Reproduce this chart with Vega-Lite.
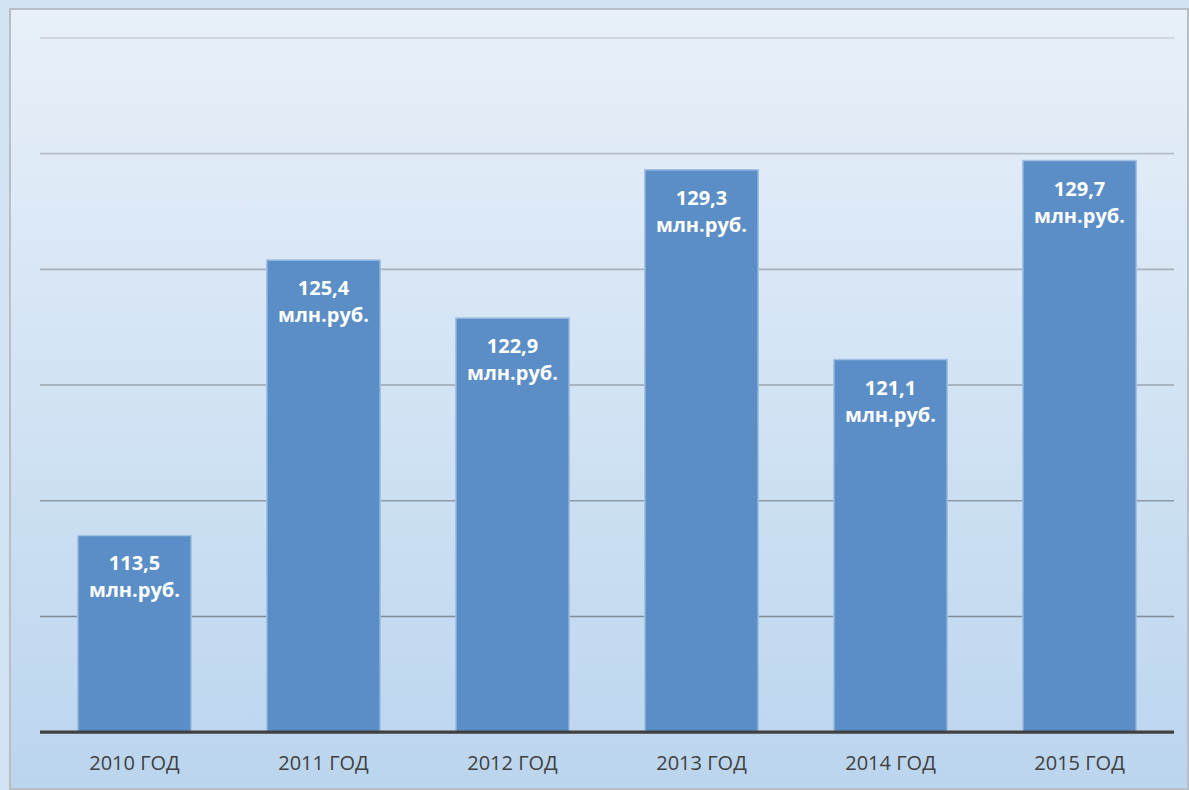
{
  "$schema": "https://vega.github.io/schema/vega-lite/v6.json",
  "width": 1189,
  "height": 790,
  "autosize": {"type": "fit", "contains": "padding"},
  "padding": {"left": 9, "top": 8, "right": 0, "bottom": 0},
  "background": "#d4e3f3",
  "datasets": {
    "bars": [
      {"year": "2010 ГОД", "value": 113.5},
      {"year": "2011 ГОД", "value": 125.4},
      {"year": "2012 ГОД", "value": 122.9},
      {"year": "2013 ГОД", "value": 129.3},
      {"year": "2014 ГОД", "value": 121.1},
      {"year": "2015 ГОД", "value": 129.7}
    ],
    "grid": [{"v": 110}, {"v": 115}, {"v": 120}, {"v": 125}, {"v": 130}, {"v": 135}],
    "base": [{"v": 105}]
  },
  "layer": [
    {
      "data": {"name": "base"},
      "mark": {
        "type": "rect",
        "fill": {"gradient": "linear", "x1": 0, "y1": 0, "x2": 0, "y2": 1,
          "stops": [{"offset": 0, "color": "#e8f0f9"}, {"offset": 1, "color": "#bbd5ee"}]},
        "stroke": "#b9bec5",
        "strokeWidth": 2
      },
      "encoding": {}
    },
    {
      "data": {"name": "grid"},
      "mark": {"type": "rule", "strokeWidth": 1.6},
      "encoding": {
        "y": {"field": "v", "type": "quantitative", "axis": null,
          "scale": {"domain": [102.543, 136.25], "nice": false, "zero": false}},
        "x": {"datum": "2010 ГОД", "bandPosition": -0.3333, "title": null,
          "scale": {"domain": ["2010 ГОД", "2011 ГОД", "2012 ГОД", "2013 ГОД", "2014 ГОД", "2015 ГОД"],
            "paddingInner": 0.4, "paddingOuter": 0.3162, "align": 0.567},
          "axis": {"domain": false, "ticks": false, "grid": false, "labelAngle": 0, "labelFont": "Open Sans",
            "labelFontSize": 20, "labelColor": "#404040", "offset": -38, "labelPadding": 2, "zindex": 1}},
        "x2": {"datum": "2015 ГОД", "bandPosition": 1.3333},
        "color": {"field": "v", "type": "quantitative", "legend": null,
          "scale": {"domain": [110, 135], "range": ["#7f8b97", "#c6cdd6"]}}
      }
    },
    {
      "data": {"name": "bars"},
      "mark": {"type": "bar", "fill": "#5b8ec6", "stroke": "#a3c1e2", "strokeWidth": 1.5},
      "encoding": {
        "x": {"field": "year", "type": "nominal", "sort": null, "title": null,
          "axis": {"domain": false, "ticks": false, "grid": false, "labelAngle": 0, "labelFont": "Open Sans",
            "labelFontSize": 20, "labelColor": "#404040", "offset": -38, "labelPadding": 2, "zindex": 1}},
        "y": {"field": "value", "type": "quantitative", "axis": null},
        "y2": {"datum": 105}
      }
    },
    {
      "data": {"name": "base"},
      "mark": {"type": "rule", "strokeWidth": 3.2, "color": "#404040"},
      "encoding": {
        "y": {"field": "v", "type": "quantitative", "axis": null},
        "x": {"datum": "2010 ГОД", "bandPosition": -0.3333, "title": null},
        "x2": {"datum": "2015 ГОД", "bandPosition": 1.3333}
      }
    },
    {
      "data": {"name": "bars"},
      "mark": {"type": "text", "dy": 35, "baseline": "alphabetic", "font": "Open Sans",
        "fontSize": 20, "fontWeight": "bold", "color": "#ffffff"},
      "encoding": {
        "x": {"field": "year", "type": "nominal", "sort": null, "title": null},
        "y": {"field": "value", "type": "quantitative", "axis": null},
        "text": {"field": "value", "type": "quantitative", "format": ".1f"}
      }
    },
    {
      "data": {"name": "bars"},
      "mark": {"type": "text", "dy": 62, "baseline": "alphabetic", "font": "Open Sans",
        "fontSize": 20, "fontWeight": "bold", "color": "#ffffff", "text": "млн.руб."},
      "encoding": {
        "x": {"field": "year", "type": "nominal", "sort": null, "title": null},
        "y": {"field": "value", "type": "quantitative", "axis": null}
      }
    }
  ],
  "config": {
    "view": {"stroke": null},
    "locale": {"number": {"decimal": ",", "thousands": " ", "grouping": [3], "currency": ["", " руб."]}}
  }
}
